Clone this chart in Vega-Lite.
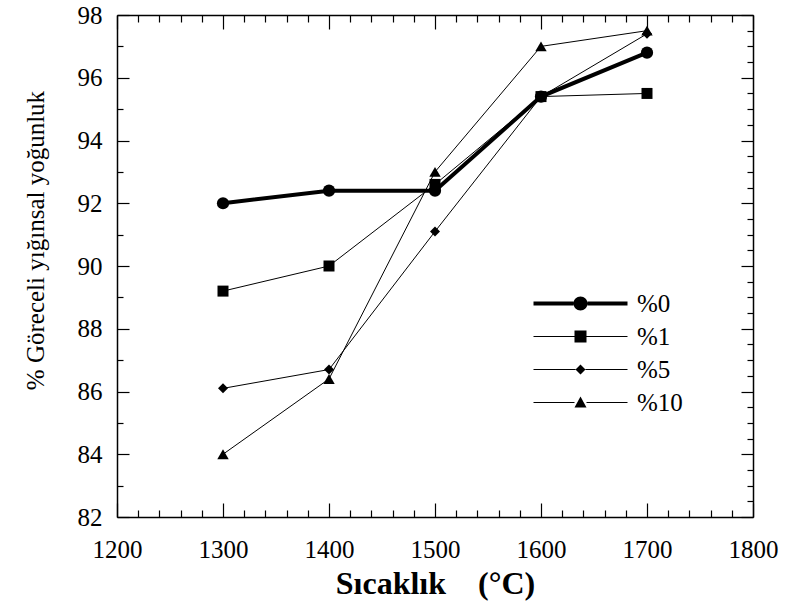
{
  "$schema": "https://vega.github.io/schema/vega-lite/v6.json",
  "width": 636,
  "height": 502,
  "autosize": "none",
  "padding": {"left": 117, "top": 15, "right": 32, "bottom": 92},
  "background": "white",
  "config": {
    "font": "Liberation Serif",
    "view": {"stroke": null},
    "axis": {
      "grid": false,
      "domainColor": "black",
      "domainWidth": 1.5,
      "tickColor": "black",
      "tickWidth": 1.2,
      "labelColor": "black",
      "labelFont": "Liberation Serif",
      "labelFontSize": 25,
      "labelOverlap": false,
      "labelFlush": false,
      "titleColor": "black",
      "titleFont": "Liberation Serif"
    }
  },
  "data": {
    "values": [
      {"series": "%0", "temp": 1300, "density": 92.0},
      {"series": "%0", "temp": 1400, "density": 92.4},
      {"series": "%0", "temp": 1500, "density": 92.4},
      {"series": "%0", "temp": 1600, "density": 95.4},
      {"series": "%0", "temp": 1700, "density": 96.8},
      {"series": "%1", "temp": 1300, "density": 89.2},
      {"series": "%1", "temp": 1400, "density": 90.0},
      {"series": "%1", "temp": 1500, "density": 92.6},
      {"series": "%1", "temp": 1600, "density": 95.4},
      {"series": "%1", "temp": 1700, "density": 95.5},
      {"series": "%5", "temp": 1300, "density": 86.1},
      {"series": "%5", "temp": 1400, "density": 86.7},
      {"series": "%5", "temp": 1500, "density": 91.1},
      {"series": "%5", "temp": 1600, "density": 95.4},
      {"series": "%5", "temp": 1700, "density": 97.4},
      {"series": "%10", "temp": 1300, "density": 84.0},
      {"series": "%10", "temp": 1400, "density": 86.4},
      {"series": "%10", "temp": 1500, "density": 93.0},
      {"series": "%10", "temp": 1600, "density": 97.0},
      {"series": "%10", "temp": 1700, "density": 97.5}
    ]
  },
  "layer": [
    {
      "mark": {"type": "line", "color": "black"},
      "encoding": {
        "x": {
          "field": "temp",
          "type": "quantitative",
          "scale": {"domain": [1200, 1800], "nice": false, "zero": false},
          "axis": {
            "orient": "bottom",
            "values": [1200,1220,1240,1260,1280,1300,1320,1340,1360,1380,1400,1420,1440,1460,1480,1500,1520,1540,1560,1580,1600,1620,1640,1660,1680,1700,1720,1740,1760,1780,1800],
            "format": "d",
            "labelExpr": "datum.value % 100 === 0 ? datum.label : ''",
            "tickSize": {"condition": {"test": "datum.value % 100 === 0", "value": -14}, "value": -7},
            "labelPadding": 34,
            "title": "Sıcaklık\u2003(°C)",
            "titleFontSize": 32,
            "titleFontWeight": "bold",
            "titleBaseline": "alphabetic",
            "titleY": 76
          }
        },
        "y": {
          "field": "density",
          "type": "quantitative",
          "scale": {"domain": [82, 98], "nice": false, "zero": false},
          "axis": {
            "orient": "left",
            "values": [82,82.5,83,83.5,84,84.5,85,85.5,86,86.5,87,87.5,88,88.5,89,89.5,90,90.5,91,91.5,92,92.5,93,93.5,94,94.5,95,95.5,96,96.5,97,97.5,98],
            "format": "d",
            "labelExpr": "datum.value % 2 === 0 ? datum.label : ''",
            "tickSize": {"condition": {"test": "datum.value % 2 === 0", "value": -12}, "value": -6},
            "labelPadding": 27,
            "title": "% Göreceli yığınsal yoğunluk",
            "titleFontSize": 25,
            "titleFontWeight": "normal",
            "titleAngle": 270,
            "titleBaseline": "alphabetic",
            "titleAlign": "center",
            "titleX": -74,
            "titleY": 225
          }
        },
        "detail": {"field": "series"},
        "strokeWidth": {"condition": {"test": "datum.series === '%0'", "value": 4}, "value": 1}
      }
    },
    {
      "mark": {"type": "point", "filled": true, "color": "black", "opacity": 1},
      "encoding": {
        "x": {
          "field": "temp",
          "type": "quantitative",
          "scale": {"domain": [1200, 1800], "nice": false, "zero": false},
          "axis": {
            "orient": "top",
            "values": [1200,1220,1240,1260,1280,1300,1320,1340,1360,1380,1400,1420,1440,1460,1480,1500,1520,1540,1560,1580,1600,1620,1640,1660,1680,1700,1720,1740,1760,1780,1800],
            "labels": false,
            "tickSize": {"condition": {"test": "datum.value % 100 === 0", "value": -14}, "value": -7},
            "title": null
          }
        },
        "y": {
          "field": "density",
          "type": "quantitative",
          "scale": {"domain": [82, 98], "nice": false, "zero": false},
          "axis": {
            "orient": "right",
            "values": [82,82.5,83,83.5,84,84.5,85,85.5,86,86.5,87,87.5,88,88.5,89,89.5,90,90.5,91,91.5,92,92.5,93,93.5,94,94.5,95,95.5,96,96.5,97,97.5,98],
            "labels": false,
            "tickSize": {"condition": {"test": "datum.value % 2 === 0", "value": -12}, "value": -6},
            "title": null
          }
        },
        "shape": {
          "field": "series",
          "type": "nominal",
          "scale": {"domain": ["%0", "%1", "%5", "%10"], "range": ["circle", "square", "diamond", "triangle-up"]},
          "legend": null
        },
        "size": {
          "condition": [
            {"test": "datum.series === '%0'", "value": 150},
            {"test": "datum.series === '%1'", "value": 121},
            {"test": "datum.series === '%5'", "value": 100}
          ],
          "value": 130
        }
      }
    },
    {
      "description": "Legend key: line segment with its marker, one per series; the plotted marks themselves are transparent.",
      "mark": {"type": "point", "filled": true, "color": "black", "opacity": 0},
      "encoding": {
        "x": {"field": "temp", "type": "quantitative", "scale": {"domain": [1200, 1800], "nice": false, "zero": false}, "axis": null},
        "y": {"field": "density", "type": "quantitative", "scale": {"domain": [82, 98], "nice": false, "zero": false}, "axis": null},
        "shape": {
          "field": "series",
          "type": "nominal",
          "scale": {
            "domain": ["%0", "%1", "%5", "%10"],
            "range": [
              "M0,-2H40V2H0ZM54,-2H94V2H54ZM40,0A7,7 0 1,0 54,0A7,7 0 1,0 40,0Z",
              "M0,-0.6H41V0.6H0ZM53,-0.6H94V0.6H53ZM41,-6H53V6H41Z",
              "M0,-0.6H42V0.6H0ZM52,-0.6H94V0.6H52ZM47,-5L52,0L47,5L42,0Z",
              "M0,-0.6H41V0.6H0ZM53,-0.6H94V0.6H53ZM47,-6L53,5H41Z"
            ]
          },
          "legend": {
            "orient": "none",
            "legendX": 404,
            "legendY": 276,
            "title": null,
            "padding": 0,
            "symbolSize": 4,
            "symbolFillColor": "black",
            "symbolStrokeWidth": 0,
            "symbolOpacity": 1,
            "labelFontSize": 25,
            "labelFont": "Liberation Serif",
            "labelColor": "black",
            "labelOffset": 91,
            "rowPadding": 7,
            "encode": {
              "symbols": {
                "update": {
                  "size": {"value": 4},
                  "fill": {"value": "black"},
                  "opacity": {"value": 1},
                  "strokeWidth": {"value": 0}
                }
              }
            }
          }
        }
      }
    }
  ],
  "resolve": {"scale": {"shape": "independent"}, "axis": {"x": "independent", "y": "independent"}}
}
